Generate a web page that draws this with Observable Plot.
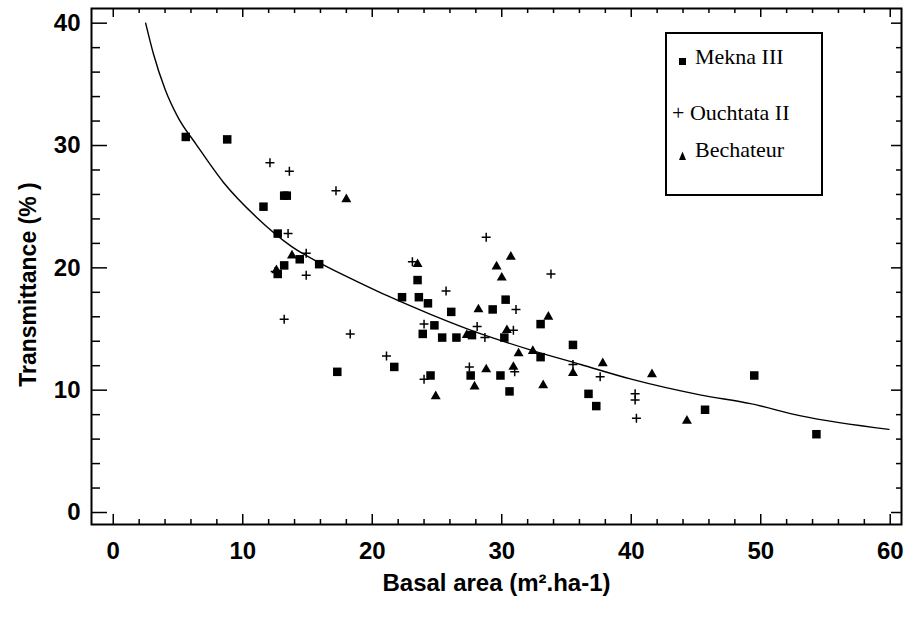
<!DOCTYPE html>
<html>
<head>
<meta charset="utf-8">
<script src="https://cdn.jsdelivr.net/npm/d3@7"></script>
<script src="https://cdn.jsdelivr.net/npm/@observablehq/plot@0.6"></script>
<style>
  html, body { margin: 0; padding: 0; background: #fff; }
  #wrap { position: relative; width: 906px; height: 619px; }
  #legend { position: absolute; left: 665px; top: 32px; width: 158px; height: 164px; box-sizing: border-box; border: 2px solid #000; background: #fff; font-family: "Liberation Serif", "Times New Roman", serif; font-size: 22px; color: #000; }
  #legend .t { position: absolute; line-height: 22px; white-space: nowrap; }
</style>
</head>
<body>
<div id="wrap">
  <div id="chart"></div>
  <div id="legend"></div>
</div>
<script>
// ---- data ----
const meknaX = [5.6, 8.8, 13.2, 13.4, 11.6, 12.7, 14.4, 13.2, 12.7, 15.9, 17.3, 21.7, 22.3, 23.5, 23.6, 24.3, 26.1, 23.9, 24.8, 25.4, 26.5, 24.5, 27.6, 27.7, 30.3, 29.3, 30.2, 33.0, 33.0, 35.5, 29.9, 30.6, 36.7, 37.3, 45.7, 49.5, 54.3];
const meknaY = [30.7, 30.5, 25.9, 25.9, 25.0, 22.8, 20.7, 20.2, 19.5, 20.3, 11.5, 11.9, 17.6, 19.0, 17.6, 17.1, 16.4, 14.6, 15.3, 14.3, 14.3, 11.2, 11.2, 14.5, 17.4, 16.6, 14.3, 15.4, 12.7, 13.7, 11.2, 9.9, 9.7, 8.7, 8.4, 11.2, 6.4];

const ouchX = [12.1, 13.6, 13.5, 12.5, 14.9, 14.9, 13.2, 17.2, 18.3, 21.1, 23.1, 25.7, 24.0, 24.0, 28.8, 33.8, 31.1, 28.1, 28.7, 30.9, 27.5, 31.0, 35.5, 37.6, 40.3, 40.3, 40.4];
const ouchY = [28.6, 27.9, 22.8, 19.7, 19.4, 21.2, 15.8, 26.3, 14.6, 12.8, 20.5, 18.1, 15.4, 10.9, 22.5, 19.5, 16.6, 15.2, 14.3, 14.9, 11.9, 11.5, 12.1, 11.1, 9.7, 9.2, 7.7];

const bechX = [18.0, 13.8, 12.6, 23.5, 27.3, 24.9, 30.7, 29.6, 30.0, 28.2, 33.6, 30.4, 31.3, 32.4, 30.9, 37.8, 35.5, 27.9, 28.8, 33.2, 41.6, 44.3];
const bechY = [25.6, 21.0, 19.8, 20.3, 14.5, 9.5, 20.9, 20.1, 19.2, 16.6, 16.0, 14.9, 13.0, 13.2, 11.9, 12.2, 11.4, 10.3, 11.7, 10.4, 11.3, 7.5];

const fitX = [2.5, 3.1, 4.0, 5.0, 6.4, 8.5, 11.1, 13.7, 16.3, 18.8, 21.2, 24.5, 28.4, 32.2, 36.1, 40.0, 45.4, 49.2, 53.1, 59.9];
const fitY = [40.0, 37.5, 34.6, 32.3, 30.1, 27.0, 24.1, 21.8, 20.2, 18.9, 17.7, 16.2, 14.6, 13.3, 12.1, 10.9, 9.6, 8.9, 7.9, 6.8];

const xMajor = [0, 10, 20, 30, 40, 50, 60];
const xMinor = [2, 4, 6, 8, 12, 14, 16, 18, 22, 24, 26, 28, 32, 34, 36, 38, 42, 44, 46, 48, 52, 54, 56, 58];
const yMajor = [0, 10, 20, 30, 40];
const yMinor = [2, 4, 6, 8, 12, 14, 16, 18, 22, 24, 26, 28, 32, 34, 36, 38];

const seriesNames = ["Mekna III", "Ouchtata II", "Bechateur"];
const xTitle = "Basal area (m².ha-1)";
const yTitle = "Transmittance (% )";

// ---- build tables ----
const mekna = meknaX.map((x, i) => ({x, y: meknaY[i]}));
const ouch = ouchX.map((x, i) => ({x, y: ouchY[i]}));
const bech = bechX.map((x, i) => ({x, y: bechY[i]}));
const fit = fitX.map((x, i) => ({x, y: fitY[i]}));

const W = 906, H = 619, mL = 91, mR = 5, mT = 8, mB = 95;
const fw = W - mL - mR, fh = H - mT - mB;
const sansB = "'Liberation Sans', Arial, sans-serif";
const lab = {fontSize: 24, fontWeight: "bold", fontFamily: sansB, fill: "black"};

const chart = Plot.plot({
  width: W, height: H,
  marginLeft: mL, marginRight: mR, marginTop: mT, marginBottom: mB,
  x: {domain: [-1.68, 60.87], axis: null},
  y: {domain: [-0.98, 41.2], axis: null},
  style: {background: "white", color: "black", overflow: "visible"},
  marks: [
    // inward ticks on the four sides
    Plot.tickX(xMajor, {x: d => d, insetTop: fh - 10, stroke: "black", strokeWidth: 1.5}),
    Plot.tickX(xMinor, {x: d => d, insetTop: fh - 5, stroke: "black", strokeWidth: 1.5}),
    Plot.tickX(xMajor, {x: d => d, insetBottom: fh - 9, stroke: "black", strokeWidth: 1.5}),
    Plot.tickX(xMinor, {x: d => d, insetBottom: fh - 5, stroke: "black", strokeWidth: 1.5}),
    Plot.tickY(yMajor, {y: d => d, insetRight: fw - 16, stroke: "black", strokeWidth: 1.5}),
    Plot.tickY(yMinor, {y: d => d, insetRight: fw - 9, stroke: "black", strokeWidth: 1.5}),
    Plot.tickY(yMajor, {y: d => d, insetLeft: fw - 10, stroke: "black", strokeWidth: 1.5}),
    Plot.tickY(yMinor, {y: d => d, insetLeft: fw - 5, stroke: "black", strokeWidth: 1.5}),
    Plot.frame({stroke: "black", strokeWidth: 2}),
    // tick labels
    Plot.text(xMajor, {x: d => d, frameAnchor: "bottom", lineAnchor: "middle", dy: 27, text: d => String(d), ...lab}),
    Plot.text(yMajor, {y: d => d, frameAnchor: "left", lineAnchor: "middle", dx: -11, textAnchor: "end", text: d => String(d), ...lab}),
    // axis titles
    Plot.text([xTitle], {frameAnchor: "bottom", lineAnchor: "middle", textAnchor: "middle", dy: 59, text: d => d, ...lab}),
    Plot.text([yTitle], {frameAnchor: "left", lineAnchor: "middle", textAnchor: "middle", dx: -63, dy: 18, rotate: -90, text: d => d, ...lab, fontSize: 23}),
    // fitted curve
    Plot.line(fit, {x: "x", y: "y", curve: "monotone-x", stroke: "black", strokeWidth: 1.4}),
    // points
    Plot.dot(ouch, {x: "x", y: "y", symbol: "plus", r: 3, stroke: "black", strokeWidth: 1.5}),
    Plot.dot(bech, {x: "x", y: "y", symbol: "triangle", r: 3.7, fill: "black", stroke: "none"}),
    Plot.dot(mekna, {x: "x", y: "y", symbol: "square", r: 4.8, fill: "black", stroke: "none"})
  ]
});
document.getElementById("chart").appendChild(chart);

// legend (HTML, box drawn at the top right of the plot)
const leg = document.getElementById("legend");
leg.innerHTML = `
  <svg width="158" height="164" style="position:absolute;left:-2px;top:-2px;overflow:visible">
    <rect x="14" y="26" width="7" height="7" fill="#000"></rect>
    <polygon points="17.5,119.5 14,128 21,128" fill="#000"></polygon>
  </svg>
  <span class="t" style="left:28px;top:12px">${seriesNames[0]}</span>
  <span class="t" style="left:5px;top:68px">+ ${seriesNames[1]}</span>
  <span class="t" style="left:28px;top:105px">${seriesNames[2]}</span>
`;
</script>
</body>
</html>
